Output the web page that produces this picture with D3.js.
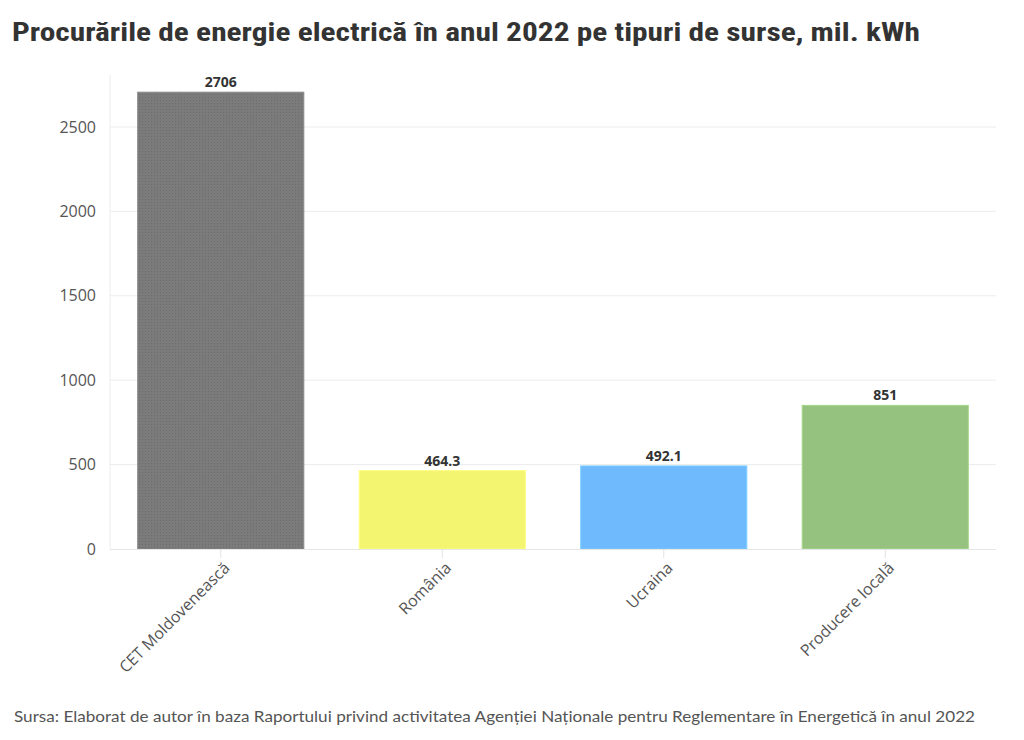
<!DOCTYPE html>
<html><head><meta charset="utf-8">
<script src="https://cdn.jsdelivr.net/npm/d3@7"></script>
<style>
html,body{margin:0;padding:0;background:#fff;}
</style></head>
<body>
<svg id="chart" width="1024" height="740"></svg>
<script>
const categories = ["CET Moldovenească", "România", "Ucraina", "Producere locală"];
const values = [2706, 464.3, 492.1, 851];
const valueLabels = ["2706", "464.3", "492.1", "851"];
const colors = ["#7b7b7b", "#f3f571", "#6fb9fd", "#95c27e"];
const yTicks = [0, 500, 1000, 1500, 2000, 2500];
const titleText = "Procurările de energie electrică în anul 2022 pe tipuri de surse, mil. kWh";
const sourceText = "Sursa: Elaborat de autor în baza Raportului privind activitatea Agenției Naționale pentru Reglementare în Energetică în anul 2022";

(function(){
const svg = d3.select("#chart");
const mL = 110, mR = 996, mT = 77, mB = 549;

const x = d3.scaleBand().domain(categories).range([mL, mR]).paddingInner(0.25).paddingOuter(0.125);
const y = d3.scaleLinear().domain([0, 2796]).range([mB, mT]);

const defs = svg.append("defs");
const pat = defs.append("pattern").attr("id","dots").attr("width",3).attr("height",3).attr("patternUnits","userSpaceOnUse");
pat.append("rect").attr("width",3).attr("height",3).attr("fill","#7b7b7b");
pat.append("rect").attr("x",1).attr("y",1).attr("width",1).attr("height",1).attr("fill","#6c6c6c");

svg.append("g").selectAll("line").data(yTicks.filter(d=>d>0)).join("line")
  .attr("x1", mL).attr("x2", mR).attr("y1", d=>y(d)).attr("y2", d=>y(d))
  .attr("stroke", "#ececec").attr("stroke-width", 1);
svg.append("line").attr("x1", mL).attr("x2", mL).attr("y1", mT-2).attr("y2", mB)
  .attr("stroke", "#ececec");

const yAxis = d3.axisLeft(y).tickValues(yTicks).tickFormat(d3.format("d")).tickSize(0).tickPadding(14);
const gy = svg.append("g").attr("transform", `translate(${mL},0)`).call(yAxis);
gy.select(".domain").remove();
gy.selectAll("text").attr("font-family", "'Open Sans', sans-serif").attr("font-size", 16).attr("fill", "#555").attr("x", -14);

svg.append("g").selectAll("rect").data(values).join("rect")
  .attr("x", (d,i)=>x(categories[i])).attr("width", x.bandwidth())
  .attr("y", d=>y(d)).attr("height", d=>y(0)-y(d))
  .attr("fill", (d,i)=> i===0 ? "url(#dots)" : colors[i])
  .attr("stroke", (d,i)=> d3.color(colors[i]).brighter(0.3)).attr("stroke-width", 1);

svg.append("line").attr("x1", mL).attr("x2", mR).attr("y1", mB+0.5).attr("y2", mB+0.5).attr("stroke", "#e6e6e6");

const xAxis = d3.axisBottom(x).tickSize(9).tickPadding(4);
const gx = svg.append("g").attr("transform", `translate(0,${mB})`).call(xAxis);
gx.select(".domain").remove();
gx.selectAll(".tick line").attr("stroke", "#e2e2e2");
gx.selectAll("text").attr("font-family", "'Open Sans', sans-serif").attr("font-size", 16).attr("fill", "#555")
  .attr("text-anchor", "end").attr("dy", "0.35em").attr("dx", 0)
  .attr("transform", "translate(6,16) rotate(-45)").attr("y", 0).attr("x", 0);

svg.append("g").selectAll("text").data(values).join("text")
  .attr("x", (d,i)=>x(categories[i]) + x.bandwidth()/2).attr("y", d=>y(d)-5)
  .attr("text-anchor", "middle").attr("font-family", "'Open Sans', sans-serif").attr("font-weight", "bold")
  .attr("font-size", 14).attr("fill", "#333").text((d,i)=>valueLabels[i]);

svg.append("text").attr("x", 12).attr("y", 41).attr("font-family", "'Liberation Sans Narrow', 'Roboto Condensed', Lato, sans-serif")
  .attr("font-weight", "bold").attr("font-size", 25).attr("fill", "#333")
  .attr("textLength", 908).attr("lengthAdjust", "spacingAndGlyphs").text(titleText);

svg.append("text").attr("x", 14).attr("y", 722).attr("font-family", "'Liberation Sans Narrow', Lato, sans-serif")
  .attr("font-size", 16).attr("fill", "#555")
  .attr("textLength", 961).attr("lengthAdjust", "spacingAndGlyphs").text(sourceText);
})();
</script>
</body></html>
